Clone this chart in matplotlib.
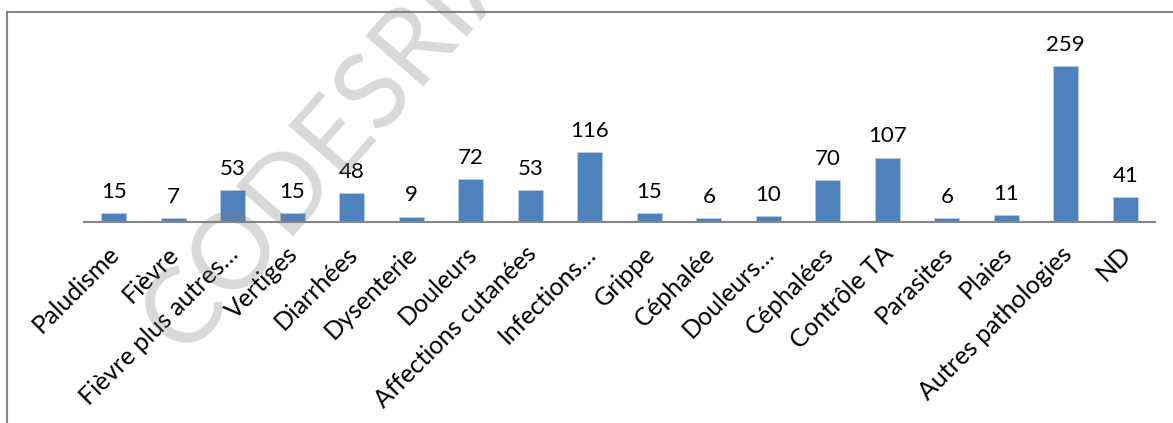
import matplotlib.pyplot as plt
from matplotlib.lines import Line2D
from matplotlib.transforms import ScaledTranslation

plt.rcParams['font.family'] = ['Lato', 'DejaVu Sans']

# Pathologies et effectifs
categories = ["Paludisme", "Fièvre", "Fièvre plus autres…", "Vertiges", "Diarrhées",
              "Dysenterie", "Douleurs", "Affections cutanées", "Infections…", "Grippe",
              "Céphalée", "Douleurs…", "Céphalées", "Contrôle TA", "Parasites",
              "Plaies", "Autres pathologies", "ND"]
effectifs = [15, 7, 53, 15, 48, 9, 72, 53, 116, 15, 6, 10, 70, 107, 6, 11, 259, 41]

fig = plt.figure(figsize=(11.73, 4.23), dpi=100)
ax = fig.add_axes([0.0716, 0.4752, 0.9131, 0.427])

x = range(len(categories))
bars = ax.bar(x, effectifs, width=0.42, color="#4f81bd", edgecolor="#b9cde5", linewidth=0.6)

for rect, v in zip(bars, effectifs):
    ax.annotate(str(v), (rect.get_x() + rect.get_width() / 2, v),
                xytext=(0, 8), textcoords="offset points",
                ha="center", va="bottom", fontsize=16, color="black",
                annotation_clip=False)

ax.set_xlim(-0.5, len(categories) - 0.5)
ax.set_ylim(0, 300)
ax.set_xticks(list(x))
ax.set_xticklabels(categories, rotation=45, ha="right", rotation_mode="anchor",
                   fontsize=18)
ax.tick_params(axis="x", length=0, pad=0)
# décaler les étiquettes un peu vers le bas
decal = ScaledTranslation(-6 / 100, -20 / 100, fig.dpi_scale_trans)
for lab in ax.get_xticklabels():
    lab.set_transform(lab.get_transform() + decal)
ax.set_yticks([])
for s in ["top", "left", "right"]:
    ax.spines[s].set_visible(False)
ax.spines["bottom"].set_color("#868686")
ax.spines["bottom"].set_linewidth(1.5)

# cadre du graphique
fig.add_artist(Line2D([7 / 1173, 7 / 1173], [-0.1, 1 - 12 / 423],
                      transform=fig.transFigure, color="#868686", lw=1.5))
fig.add_artist(Line2D([7 / 1173, 1.1], [1 - 12 / 423, 1 - 12 / 423],
                      transform=fig.transFigure, color="#868686", lw=1.5))

# filigrane
fig.text(332 / 1173, 1 - 140 / 423, "CODESRIA", fontsize=76, color="#808080",
         alpha=0.3, rotation=49, ha="center", va="center",
         family=["Lato", "DejaVu Sans"], zorder=10)

fig.savefig("out.png", dpi=100)
